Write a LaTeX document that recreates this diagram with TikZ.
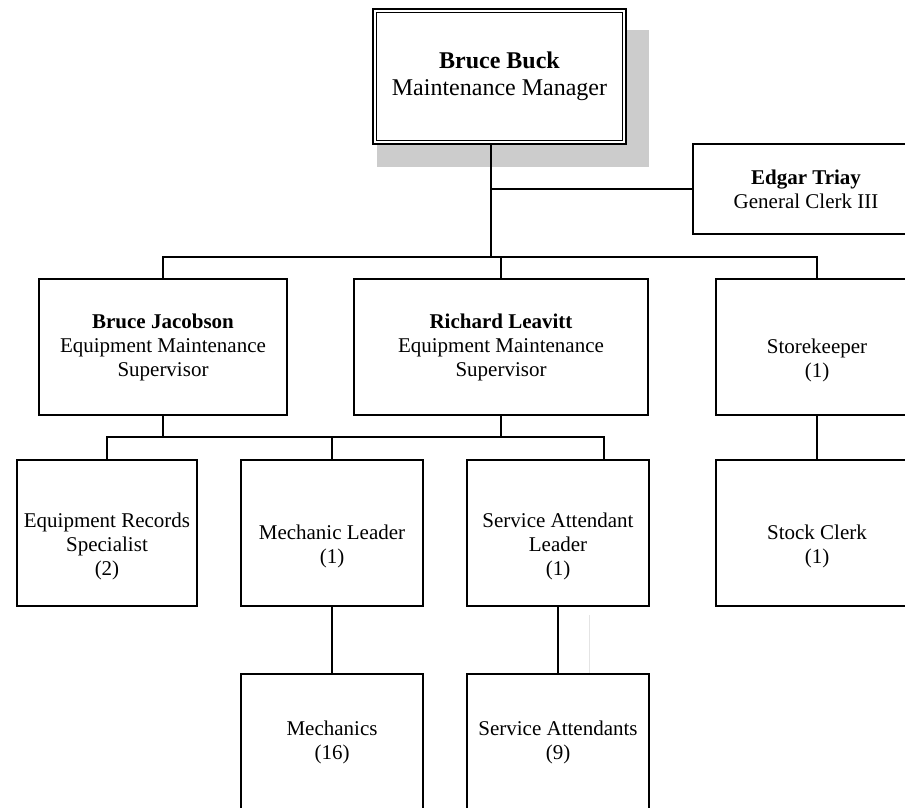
\documentclass[tikz,border=0pt]{standalone}
\usepackage{fontspec}
\setmainfont{Liberation Serif}
\usetikzlibrary{backgrounds}
\definecolor{cshadow}{HTML}{CCCCCC}
\definecolor{cfaint}{HTML}{E4E4E4}
\tikzset{
  every picture/.style={line width=1.6pt},
  box/.style={draw, fill=white, align=center, inner sep=0pt, font=\fontsize{21}{24}\selectfont},
  headbox/.style={box, double, double distance=2pt, font=\fontsize{24}{27}\selectfont},
  link/.style={draw=black, line width=1.9pt},
  trunk/.style={link, line width=2.3pt},
  ghost/.style={draw=cfaint, line width=1pt},
}

\begin{document}
\begin{tikzpicture}[x=1pt, y=-1pt]
  \useasboundingbox (0,0) rectangle (905,807);
  % manager and clerk
  \node[headbox, minimum width=249.8pt, minimum height=131.8pt] (buck) at (499.5,76.5)
    {\textbf{Bruce Buck}\\Maintenance Manager};
  \node[box, minimum width=226pt, minimum height=90pt] (edgar) at (806,189)
    {\textbf{Edgar Triay}\\General Clerk III};
  % supervisors
  \node[box, minimum width=248pt, minimum height=136pt] (jacobson) at (163,347)
    {\textbf{Bruce Jacobson}\\Equipment Maintenance\\Supervisor};
  \node[box, minimum width=294pt, minimum height=136pt] (leavitt) at (501,347)
    {\textbf{Richard Leavitt}\\Equipment Maintenance\\Supervisor};
  \node[box, minimum width=202pt, minimum height=136pt] (store) at (817,347)
    {\strut\\Storekeeper\\(1)};
  % third row
  \node[box, minimum width=180pt, minimum height=146pt] (records) at (107,533)
    {\strut\\Equipment Records\\Specialist\\(2)};
  \node[box, minimum width=182pt, minimum height=146pt] (mechlead) at (332,533)
    {\strut\\Mechanic Leader\\(1)};
  \node[box, minimum width=182pt, minimum height=146pt] (servlead) at (558,533)
    {\strut\\Service Attendant\\Leader\\(1)};
  \node[box, minimum width=202pt, minimum height=146pt] (stock) at (817,533)
    {\strut\\Stock Clerk\\(1)};
  % crews
  \node[box, minimum width=182pt, minimum height=136pt] (mechanics) at (332,742)
    {Mechanics\\(16)};
  \node[box, minimum width=182pt, minimum height=136pt] (servatt) at (558,742)
    {Service Attendants\\(9)};

  \begin{scope}[on background layer]
    \fill[cshadow] (377,30) rectangle (649,167);
  \end{scope}

  \coordinate (top) at (491,257);
  \coordinate (tap) at (604,437);
  \coordinate (stray) at (589,615);

  \draw[trunk] (buck.south -| top) -- (top);
  \draw[link] (top |- edgar.west) -- (edgar.west);
  \draw[link] (jacobson.north) |- (top) -| (store.north);
  \draw[link] (leavitt.north) -- (leavitt.north |- top);

  \draw[link] (records.north) |- (tap) -- (tap |- servlead.north);
  \draw[link] (jacobson.south) -- (jacobson.south |- tap);
  \draw[link] (leavitt.south) -- (leavitt.south |- tap);
  \draw[link] (mechlead.north) -- (mechlead.north |- tap);
  \draw[link] (store.south) -- (stock.north);

  \draw[link] (mechlead.south) -- (mechanics.north);
  \draw[link] (servlead.south) -- (servatt.north);
  \draw[ghost] (stray) -- (stray |- servatt.north);
\end{tikzpicture}
\end{document}
